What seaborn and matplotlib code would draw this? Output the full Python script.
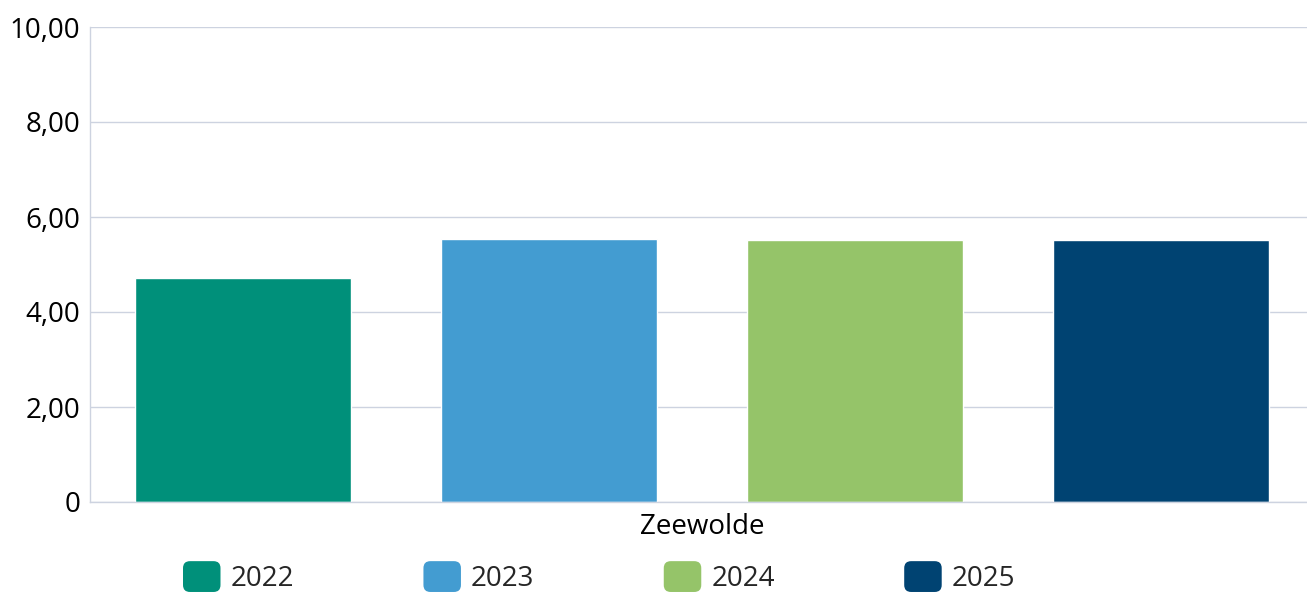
import matplotlib
matplotlib.use("Agg")
import matplotlib.pyplot as plt
import seaborn as sns
import pandas as pd
from matplotlib.patches import FancyBboxPatch, Patch
from matplotlib.legend_handler import HandlerPatch
from matplotlib.ticker import FuncFormatter

gemeente = ["Zeewolde"]
jaren = ["2022", "2023", "2024", "2025"]
waarden = [4.72, 5.54, 5.52, 5.51]
kleuren = ["#00907A", "#439CD1", "#95C469", "#004372"]

df = pd.DataFrame({"Gemeente": gemeente * len(jaren), "Jaar": jaren, "Waarde": waarden})

sns.set_style("white")
plt.rcParams["font.family"] = ["Open Sans", "DejaVu Sans"]
grid_kleur = "#CDD3E0"


class RoundHandler(HandlerPatch):
    def create_artists(self, legend, orig_handle, xdescent, ydescent, width, height, fontsize, trans):
        p = FancyBboxPatch((-xdescent, -ydescent), width, height,
                           boxstyle="round,pad=0,rounding_size=5",
                           facecolor=orig_handle.get_facecolor(), edgecolor="none",
                           transform=trans)
        return [p]


fig = plt.figure(figsize=(13.07, 5.92), dpi=100)
ax = fig.add_axes([90 / 1307, 1 - 502 / 592, 1 - 90 / 1307, (502 - 27) / 592])

sns.barplot(data=df, x="Gemeente", y="Waarde", hue="Jaar", palette=kleuren,
            width=1.0, gap=0.294, saturation=1, ax=ax, legend=False)

ax.set_ylim(0, 10)
ax.set_xlim(-0.5, 0.494)
ax.set_yticks([0, 2, 4, 6, 8, 10])
ax.yaxis.set_major_formatter(FuncFormatter(lambda v, p: "0" if v == 0 else f"{v:.2f}".replace(".", ",")))
ax.yaxis.grid(True, color=grid_kleur, linewidth=1)
ax.set_axisbelow(True)
ax.set_xlabel("")
ax.set_ylabel("")
for s in ["top", "right"]:
    ax.spines[s].set_visible(False)
for s in ["left", "bottom"]:
    ax.spines[s].set_color(grid_kleur)
    ax.spines[s].set_linewidth(1)
ax.tick_params(axis="both", length=0, labelsize=20, colors="black")
ax.tick_params(axis="x", pad=8)
ax.tick_params(axis="y", pad=7)

handles = [Patch(facecolor=c, label=j) for c, j in zip(kleuren, jaren)]
fig.legend(handles=handles, loc="center left", bbox_to_anchor=(158 / 1307, 1 - 577 / 592),
           ncol=4, frameon=False, fontsize=20, handlelength=1.35, handleheight=1.33,
           handletextpad=0.36, columnspacing=4.66,
           handler_map={Patch: RoundHandler()})

fig.savefig("out.png", dpi=100)
